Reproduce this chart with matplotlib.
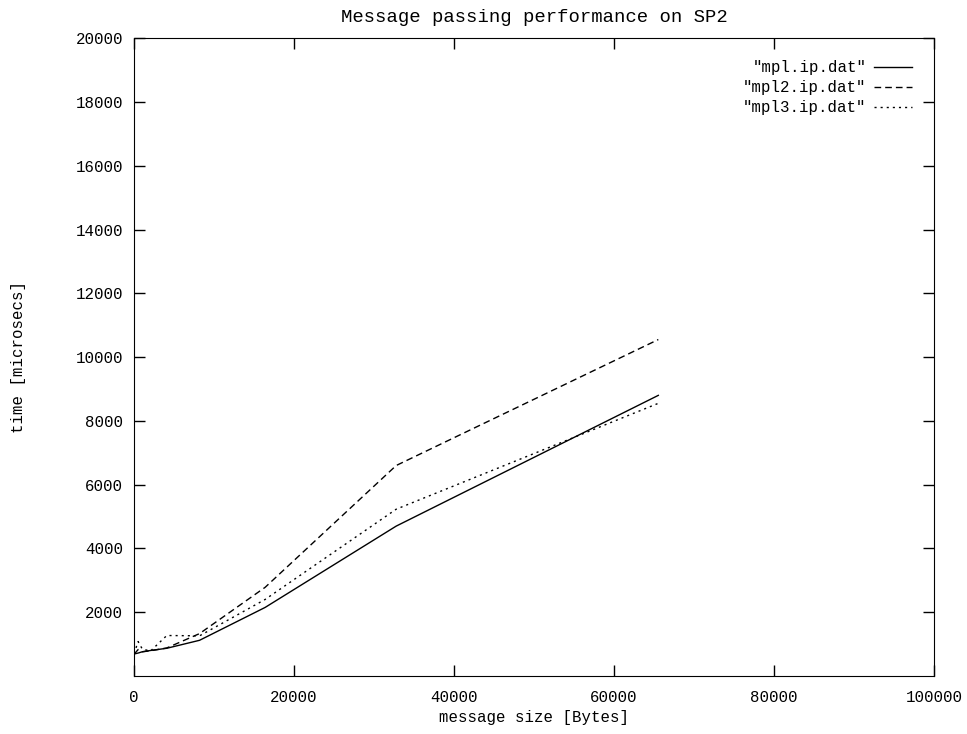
import matplotlib
matplotlib.use("Agg")
import matplotlib.pyplot as plt

# message sizes in bytes and round-trip times in microseconds
msg_size = [4, 512, 1024, 2048, 4096, 8192, 16384, 32768, 65536]
mpl1 = [690, 720, 760, 800, 870, 1120, 2150, 4700, 8800]
mpl2 = [680, 830, 760, 790, 880, 1330, 2780, 6600, 10550]
mpl3 = [700, 1080, 850, 780, 1270, 1260, 2400, 5230, 8550]

series_names = ['"mpl.ip.dat"', '"mpl2.ip.dat"', '"mpl3.ip.dat"']
x_ticks = [0, 20000, 40000, 60000, 80000, 100000]
y_ticks = [2000, 4000, 6000, 8000, 10000, 12000, 14000, 16000, 18000, 20000]

plt.rcParams["font.family"] = ["Liberation Mono", "DejaVu Sans Mono"]
plt.rcParams["font.size"] = 11.3

fig = plt.figure(figsize=(9.67, 7.34), dpi=100)
ax = fig.add_axes([0.1386, 0.079, 0.8273, 0.869])

ax.plot(msg_size, mpl1, color="black", lw=1.0, label=series_names[0])
ax.plot(msg_size, mpl2, color="black", lw=1.0, linestyle=(0, (4.8, 2.9)), label=series_names[1])
ax.plot(msg_size, mpl3, color="black", lw=1.0, linestyle=(0, (1.5, 2.9)), label=series_names[2])

ax.set_xlim(0, 100000)
ax.set_ylim(0, 20000)
ax.set_xticks(x_ticks)
ax.set_yticks(y_ticks)
ax.tick_params(direction="in", length=8, width=1, top=True, right=True, pad=8)
ax.tick_params(axis="x", pad=10)

ax.set_title("Message passing performance on SP2", pad=12)
ax.set_xlabel("message size [Bytes]")
ax.set_ylabel("time [microsecs]")
ax.xaxis.set_label_coords(0.5, -0.054)
ax.yaxis.set_label_coords(-0.135, 0.5)

ax.legend(loc="upper right", frameon=False, markerfirst=False,
          handlelength=2.4, handletextpad=0.5, labelspacing=0.32,
          borderaxespad=1.0, alignment="right")

fig.savefig("out.png", dpi=100)
